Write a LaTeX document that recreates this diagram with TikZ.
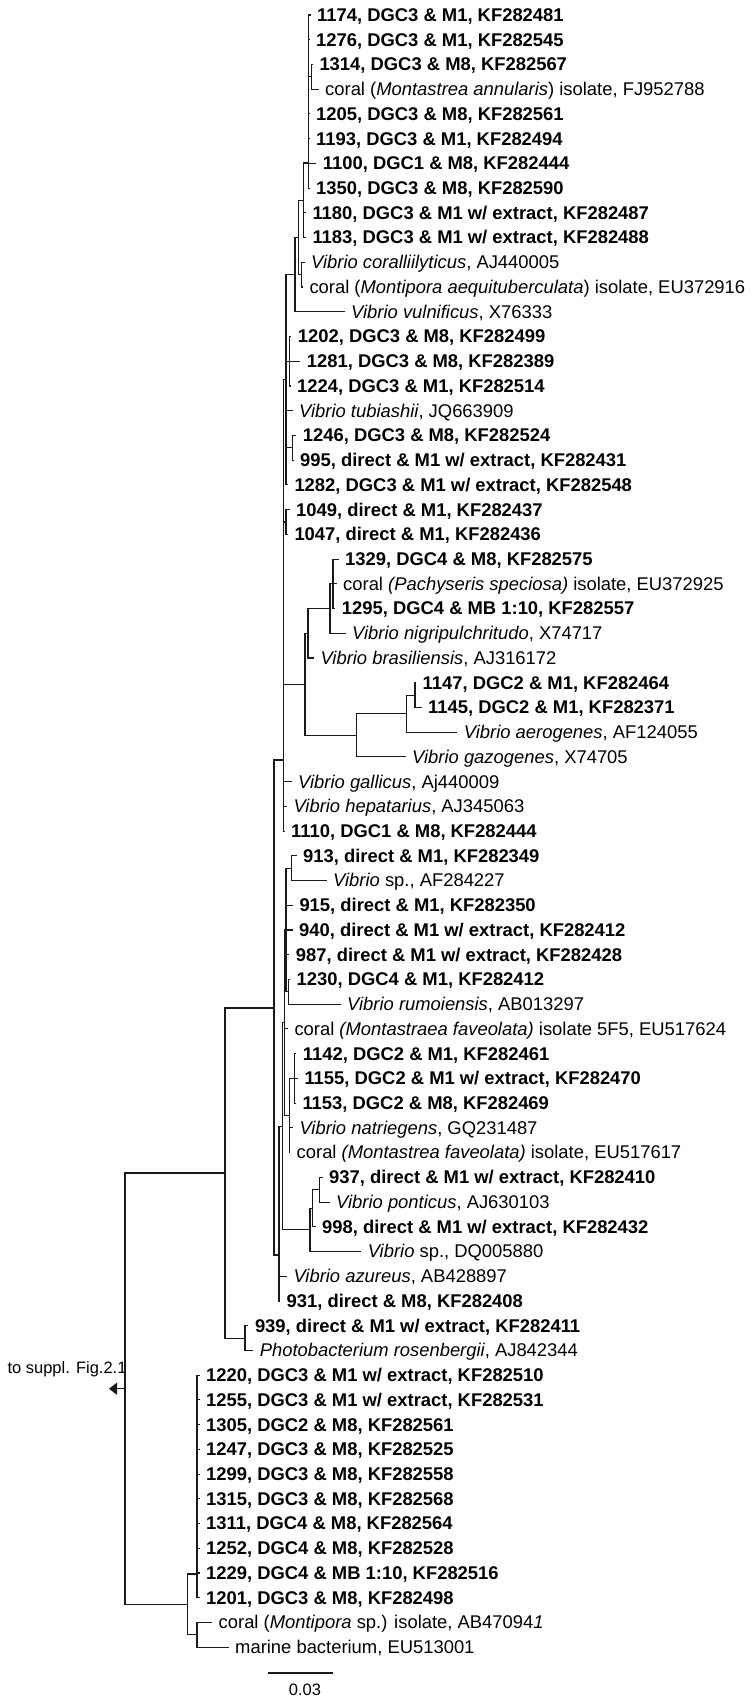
\documentclass[tikz,border=0pt]{standalone}
\usepackage{fontspec}
\setmainfont{Liberation Sans}
\usetikzlibrary{calc,arrows.meta}
\tikzset{
  br/.style={line width=1.1pt, line cap=rect, black!90},
  lab/.style={anchor=base west, inner sep=0pt, font=\fontsize{18.4}{22}\selectfont},
  small/.style={inner sep=0pt, font=\fontsize{16.5}{20}\selectfont}
}
\newcommand{\lf}[4]{\coordinate (#1) at (#2,{15+24.73*(#3-1)});
  \node[lab] (#1-t) at ($(#1)+(7,6.4)$) {#4};}
\newcommand{\nd}[4]{\path let \p1=($(#3)!.5!(#4)$) in coordinate (#1) at (#2pt,\y1);}
\newcommand{\ndy}[3]{\coordinate (#1) at (#2,#3);}
\newcommand{\ed}[2]{\draw[br] (#1) |- (#2);}
\begin{document}
\begin{tikzpicture}[x=1pt,y=-1pt]
\useasboundingbox (0,0) rectangle (752,1697);
% leaves
\lf{a1174}{310}{1}{\textbf{1174, DGC3 \& M1, KF282481}}
\lf{a1276}{309}{2}{\textbf{1276, DGC3 \& M1, KF282545}}
\lf{a1314}{312.3}{3}{\textbf{1314, DGC3 \& M8, KF282567}}
\lf{cMA}{318}{4}{coral (\textit{Montastrea annularis}) isolate, FJ952788}
\lf{a1205}{309}{5}{\textbf{1205, DGC3 \& M8, KF282561}}
\lf{a1193}{309}{6}{\textbf{1193, DGC3 \& M1, KF282494}}
\lf{a1100}{315.7}{7}{\textbf{1100, DGC1 \& M8, KF282444}}
\lf{a1350}{309}{8}{\textbf{1350, DGC3 \& M8, KF282590}}
\lf{a1180}{305.3}{9}{\textbf{1180, DGC3 \& M1 w/ extract, KF282487}}
\lf{a1183}{305.3}{10}{\textbf{1183, DGC3 \& M1 w/ extract, KF282488}}
\lf{vcor}{304}{11}{\textit{Vibrio coralliilyticus}, AJ440005}
\lf{cMAe}{302.3}{12}{coral (\textit{Montipora aequituberculata}) isolate, EU372916}
\lf{vvul}{344}{13}{\textit{Vibrio vulnificus}, X76333}
\lf{a1202}{290.7}{14}{\textbf{1202, DGC3 \& M8, KF282499}}
\lf{a1281}{299.7}{15}{\textbf{1281, DGC3 \& M8, KF282389}}
\lf{a1224}{290}{16}{\textbf{1224, DGC3 \& M1, KF282514}}
\lf{vtub}{292}{17}{\textit{Vibrio tubiashii}, JQ663909}
\lf{a1246}{295.7}{18}{\textbf{1246, DGC3 \& M8, KF282524}}
\lf{a995}{293}{19}{\textbf{995, direct \& M1 w/ extract, KF282431}}
\lf{a1282}{287.3}{20}{\textbf{1282, DGC3 \& M1 w/ extract, KF282548}}
\lf{a1049}{289}{21}{\textbf{1049, direct \& M1, KF282437}}
\lf{a1047}{287.3}{22}{\textbf{1047, direct \& M1, KF282436}}
\lf{a1329}{338}{23}{\textbf{1329, DGC4 \& M8, KF282575}}
\lf{cPS}{336}{24}{coral \textit{(Pachyseris speciosa)} isolate, EU372925}
\lf{a1295}{334.7}{25}{\textbf{1295, DGC4 \& MB 1:10, KF282557}}
\lf{vnig}{345}{26}{\textit{Vibrio nigripulchritudo}, X74717}
\lf{vbra}{313.3}{27}{\textit{Vibrio brasiliensis}, AJ316172}
\lf{a1147}{415.5}{28}{\textbf{1147, DGC2 \& M1, KF282464}}
\lf{a1145}{421}{29}{\textbf{1145, DGC2 \& M1, KF282371}}
\lf{vaer}{456.7}{30}{\textit{Vibrio aerogenes}, AF124055}
\lf{vgaz}{405}{31}{\textit{Vibrio gazogenes}, X74705}
\lf{vgal}{291}{32}{\textit{Vibrio gallicus}, Aj440009}
\lf{vhep}{286.3}{33}{\textit{Vibrio hepatarius}, AJ345063}
\lf{a1110}{284}{34}{\textbf{1110, DGC1 \& M8, KF282444}}
\lf{a913}{296}{35}{\textbf{913, direct \& M1, KF282349}}
\lf{vspA}{326}{36}{\textit{Vibrio} sp., AF284227}
\lf{a915}{292.3}{37}{\textbf{915, direct \& M1, KF282350}}
\lf{a940}{292}{38}{\textbf{940, direct \& M1 w/ extract, KF282412}}
\lf{a987}{288.7}{39}{\textbf{987, direct \& M1 w/ extract, KF282428}}
\lf{a1230}{289.5}{40}{\textbf{1230, DGC4 \& M1, KF282412}}
\lf{vrum}{340}{41}{\textit{Vibrio rumoiensis}, AB013297}
\lf{cMF5}{287.3}{42}{coral \textit{(Montastraea faveolata)} isolate 5F5, EU517624}
\lf{a1142}{295.7}{43}{\textbf{1142, DGC2 \& M1, KF282461}}
\lf{a1155}{297.3}{44}{\textbf{1155, DGC2 \& M1 w/ extract, KF282470}}
\lf{a1153}{295.3}{45}{\textbf{1153, DGC2 \& M8, KF282469}}
\lf{vnat}{292.3}{46}{\textit{Vibrio natriegens}, GQ231487}
\lf{cMF}{289.5}{47}{coral \textit{(Montastrea faveolata)} isolate, EU517617}
\lf{a937}{322}{48}{\textbf{937, direct \& M1 w/ extract, KF282410}}
\lf{vpon}{329}{49}{\textit{Vibrio ponticus}, AJ630103}
\lf{a998}{315}{50}{\textbf{998, direct \& M1 w/ extract, KF282432}}
\lf{vspD}{360.6}{51}{\textit{Vibrio} sp., DQ005880}
\lf{vazu}{286.3}{52}{\textit{Vibrio azureus}, AB428897}
\lf{a931}{279.5}{53}{\textbf{931, direct \& M8, KF282408}}
\lf{a939}{247.8}{54}{\textbf{939, direct \& M1 w/ extract, KF282411}}
\lf{pros}{252.6}{55}{\textit{Photobacterium rosenbergii}, AJ842344}
\lf{a1220}{199}{56}{\textbf{1220, DGC3 \& M1 w/ extract, KF282510}}
\lf{a1255}{199}{57}{\textbf{1255, DGC3 \& M1 w/ extract, KF282531}}
\lf{a1305}{199}{58}{\textbf{1305, DGC2 \& M8, KF282561}}
\lf{a1247}{199}{59}{\textbf{1247, DGC3 \& M8, KF282525}}
\lf{a1299}{199}{60}{\textbf{1299, DGC3 \& M8, KF282558}}
\lf{a1315}{199}{61}{\textbf{1315, DGC3 \& M8, KF282568}}
\lf{a1311}{199}{62}{\textbf{1311, DGC4 \& M8, KF282564}}
\lf{a1252}{199}{63}{\textbf{1252, DGC4 \& M8, KF282528}}
\lf{a1229}{199}{64}{\textbf{1229, DGC4 \& MB 1:10, KF282516}}
\lf{a1201}{199}{65}{\textbf{1201, DGC3 \& M8, KF282498}}
\lf{cMsp}{211.5}{66}{coral (\textit{Montipora} sp.) isolate, AB47094\textit{1}}
\lf{mbac}{228}{67}{marine bacterium, EU513001}
% internal nodes
\nd{T1}{311.7}{a1314}{cMA}
\ndy{H0}{308.3}{163}
\nd{J}{303.3}{H0}{a1183}
\nd{L}{301.7}{vcor}{cMAe}
\nd{K}{298.3}{J}{L}
\nd{G}{295}{K}{vvul}
\nd{P12}{289.3}{a1202}{a1224}
\nd{N1246}{292.7}{a1246}{a995}
\nd{N1049}{286}{a1049}{a1047}
\nd{I}{286}{G}{a1282}
\nd{F}{333}{a1329}{a1295}
\nd{E}{330}{F}{vnig}
\nd{C}{308}{E}{vbra}
\nd{Ds}{415}{a1147}{a1145}
\nd{D2}{406.7}{Ds}{vaer}
\nd{D}{356.7}{D2}{vgaz}
\nd{B}{305}{C}{D}
\ndy{A}{283.3}{760}
\nd{M}{291.7}{a913}{vspA}
\nd{N1230}{288.3}{a1230}{vrum}
\nd{Y1}{286}{M}{N1230}
\nd{N1142}{294.3}{a1142}{a1153}
\nd{Y2}{289.3}{N1142}{cMF}
\nd{W}{284.5}{Y1}{Y2}
\nd{Q}{319.7}{a937}{vpon}
\nd{P}{312.5}{Q}{a998}
\nd{O}{310}{P}{vspD}
\nd{X}{282.5}{W}{O}
\ndy{S}{279}{1255}
\ndy{N5}{274}{1008}
\nd{N6}{245}{a939}{pros}
\nd{N1}{225}{N5}{N6}
\ndy{N3}{197}{1574}
\nd{N4}{197}{cMsp}{mbac}
\nd{N2}{187.5}{N3}{N4}
\nd{R}{125}{N1}{N2}
% branches
\foreach \c in {a1314,cMA} {\ed{T1}{\c}}
\foreach \c in {a1174,a1276,T1,a1205,a1193,a1100,a1350} {\ed{H0}{\c}}
\foreach \c in {H0,a1180,a1183} {\ed{J}{\c}}
\foreach \c in {vcor,cMAe} {\ed{L}{\c}}
\foreach \c in {J,L} {\ed{K}{\c}}
\foreach \c in {K,vvul} {\ed{G}{\c}}
\foreach \c in {a1202,a1281,a1224} {\ed{P12}{\c}}
\foreach \c in {a1246,a995} {\ed{N1246}{\c}}
\foreach \c in {a1049,a1047} {\ed{N1049}{\c}}
\foreach \c in {G,P12,vtub,N1246,a1282} {\ed{I}{\c}}
\foreach \c in {a1329,cPS,a1295} {\ed{F}{\c}}
\foreach \c in {F,vnig} {\ed{E}{\c}}
\foreach \c in {E,vbra} {\ed{C}{\c}}
\foreach \c in {a1147,a1145} {\ed{Ds}{\c}}
\foreach \c in {Ds,vaer} {\ed{D2}{\c}}
\foreach \c in {D2,vgaz} {\ed{D}{\c}}
\foreach \c in {C,D} {\ed{B}{\c}}
\foreach \c in {I,N1049,B,vgal,vhep,a1110} {\ed{A}{\c}}
\foreach \c in {a913,vspA} {\ed{M}{\c}}
\foreach \c in {a1230,vrum} {\ed{N1230}{\c}}
\foreach \c in {M,a915,a940,a987,N1230} {\ed{Y1}{\c}}
\foreach \c in {a1142,a1155,a1153} {\ed{N1142}{\c}}
\foreach \c in {N1142,vnat,cMF} {\ed{Y2}{\c}}
\foreach \c in {Y1,cMF5,Y2} {\ed{W}{\c}}
\foreach \c in {a937,vpon} {\ed{Q}{\c}}
\foreach \c in {Q,a998} {\ed{P}{\c}}
\foreach \c in {P,vspD} {\ed{O}{\c}}
\foreach \c in {W,O} {\ed{X}{\c}}
\foreach \c in {X,vazu,a931} {\ed{S}{\c}}
\foreach \c in {A,S} {\ed{N5}{\c}}
\foreach \c in {a939,pros} {\ed{N6}{\c}}
\foreach \c in {N5,N6} {\ed{N1}{\c}}
\foreach \c in {a1220,a1255,a1305,a1247,a1299,a1315,a1311,a1252,a1229,a1201} {\ed{N3}{\c}}
\foreach \c in {cMsp,mbac} {\ed{N4}{\c}}
\foreach \c in {N3,N4} {\ed{N2}{\c}}
\foreach \c in {N1,N2} {\ed{R}{\c}}
% outgroup arrow
\coordinate (arr) at ($(R)+(-16,0)$);
\draw[br, line cap=butt, -{Triangle[length=8pt,width=12pt]}] (R) -- (arr);
\node[small] (sup) at (67,1369) {to suppl. Fig.2.1};
% scale bar
\coordinate (sb1) at (268,1673);
\coordinate (sb2) at (333,1673);
\draw[br, line cap=butt] (sb1) -- (sb2);
\node[small] (sbl) at (305,1690) {0.03};
\end{tikzpicture}
\end{document}
